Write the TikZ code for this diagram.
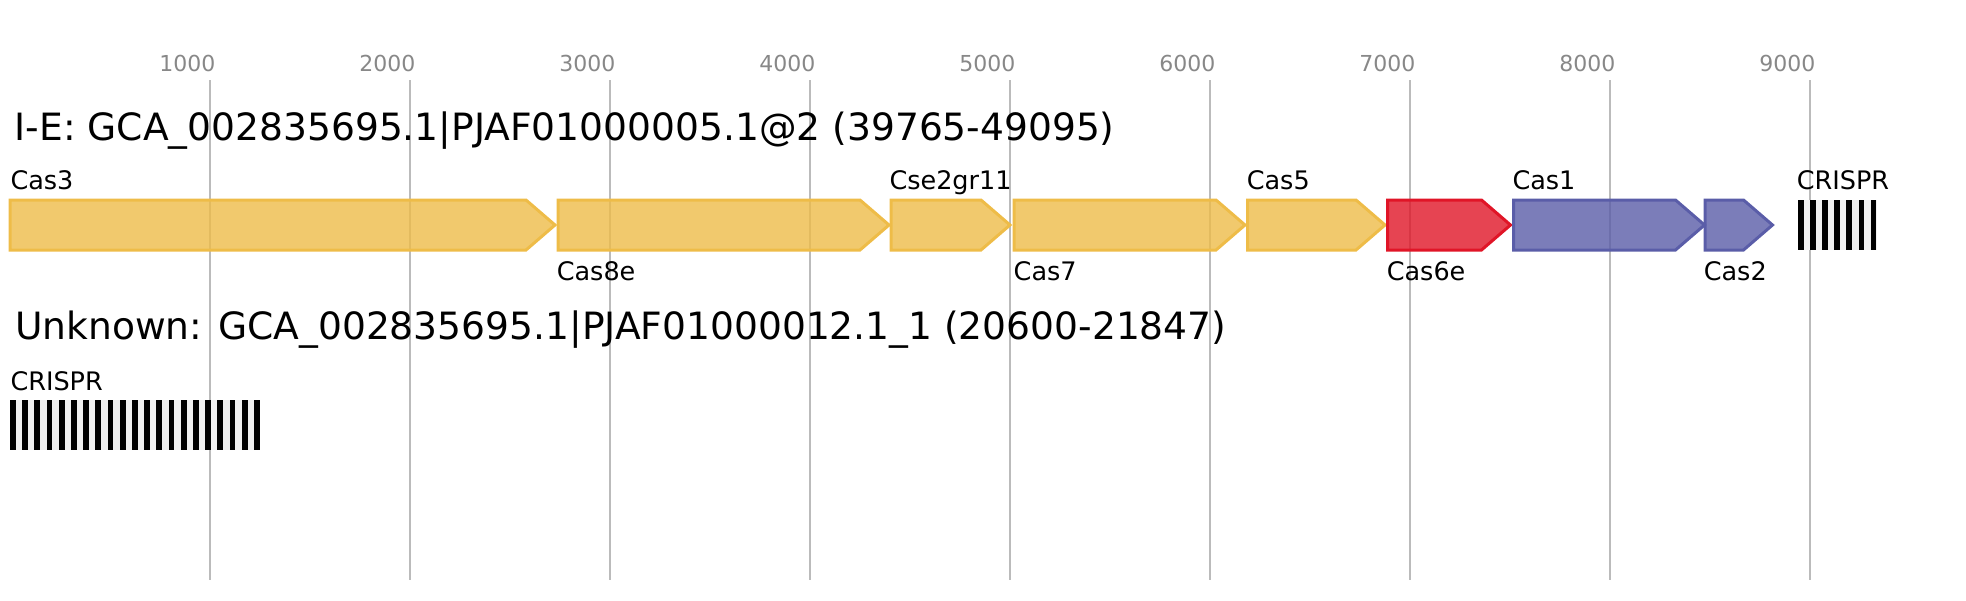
\documentclass[tikz,border=0pt]{standalone}
\usepackage{fontspec}
\setmainfont{DejaVu Sans}
\definecolor{yel}{HTML}{EEBC48}
\definecolor{redc}{HTML}{E01527}
\definecolor{blu}{HTML}{5A5DA8}
\definecolor{gridc}{HTML}{BBBBBB}
\definecolor{tickc}{HTML}{888888}
\definecolor{crbg}{HTML}{F0F0F0}
\newcommand\GeneArrow[3]{\draw[genearrow,draw=#3,fill=#3] (#1,200) -- ({#2-29},200) -- (#2,225) -- ({#2-29},250) -- (#1,250) -- cycle;}
\begin{document}
\begin{tikzpicture}[x=1pt,y=-1pt,
  gridline/.style={draw=gridc, line width=2pt},
  ticklabel/.style={text=tickc, font=\fontsize{22}{24}\selectfont, anchor=base east, inner sep=0pt},
  titletext/.style={font=\fontsize{37.6}{42}\selectfont, anchor=base west, inner sep=0pt},
  genelabel/.style={font=\fontsize{25.5}{28}\selectfont, anchor=base west, inner sep=0pt},
  genearrow/.style={line width=3pt, fill opacity=0.8, line join=miter},
  crisprbg/.style={fill=crbg, draw=none},
  crisprbar/.style={fill=black, draw=none}]
\useasboundingbox (0,0) rectangle (1966,600);
% grid and ticks
\foreach \k in {1,...,9} {
  \draw[gridline] ({10+200*\k},80) -- ({10+200*\k},580);
  \node[ticklabel] (t\k) at ({15.5+200*\k},71.5) {\k000};
}
% titles
\node[titletext] (title1) at (14.6,140) {I-E: GCA\_002835695.1|PJAF01000005.1@2 (39765-49095)};
\node[titletext] (title2) at (15,339.3) {Unknown: GCA\_002835695.1|PJAF01000012.1\_1 (20600-21847)};
% genes
\GeneArrow{10}{555}{yel}
\GeneArrow{558}{889}{yel}
\GeneArrow{891}{1010}{yel}
\GeneArrow{1014}{1245}{yel}
\GeneArrow{1247.5}{1385}{yel}
\GeneArrow{1387.5}{1510.5}{redc}
\GeneArrow{1513.5}{1704.5}{blu}
\GeneArrow{1705}{1772.5}{blu}
% top CRISPR
\fill[crisprbg] (1798,200) rectangle (1876.5,250);
\foreach \i in {0,...,6} \fill[crisprbar] ({1798+12.1*\i},200) rectangle +(5.8,50);
% bottom CRISPR
\fill[crisprbg] (10,400) rectangle (260,450);
\foreach \i in {0,...,20} \fill[crisprbar] ({10+12.2*\i},400) rectangle +(5.8,50);
% gene labels
\node[genelabel] (lcas3) at (10.3,189) {Cas3};
\node[genelabel] (lcse) at (889.3,189) {Cse2gr11};
\node[genelabel] (lcas5) at (1246.6,189) {Cas5};
\node[genelabel] (lcas1) at (1512.3,189) {Cas1};
\node[genelabel] (lcr1) at (1796.6,189) {CRISPR};
\node[genelabel] (lcas8e) at (556.6,280) {Cas8e};
\node[genelabel] (lcas7) at (1013.5,280) {Cas7};
\node[genelabel] (lcas6e) at (1386.6,280) {Cas6e};
\node[genelabel] (lcas2) at (1703.6,280) {Cas2};
\node[genelabel] (lcr2) at (10.3,390) {CRISPR};
\end{tikzpicture}
\end{document}
